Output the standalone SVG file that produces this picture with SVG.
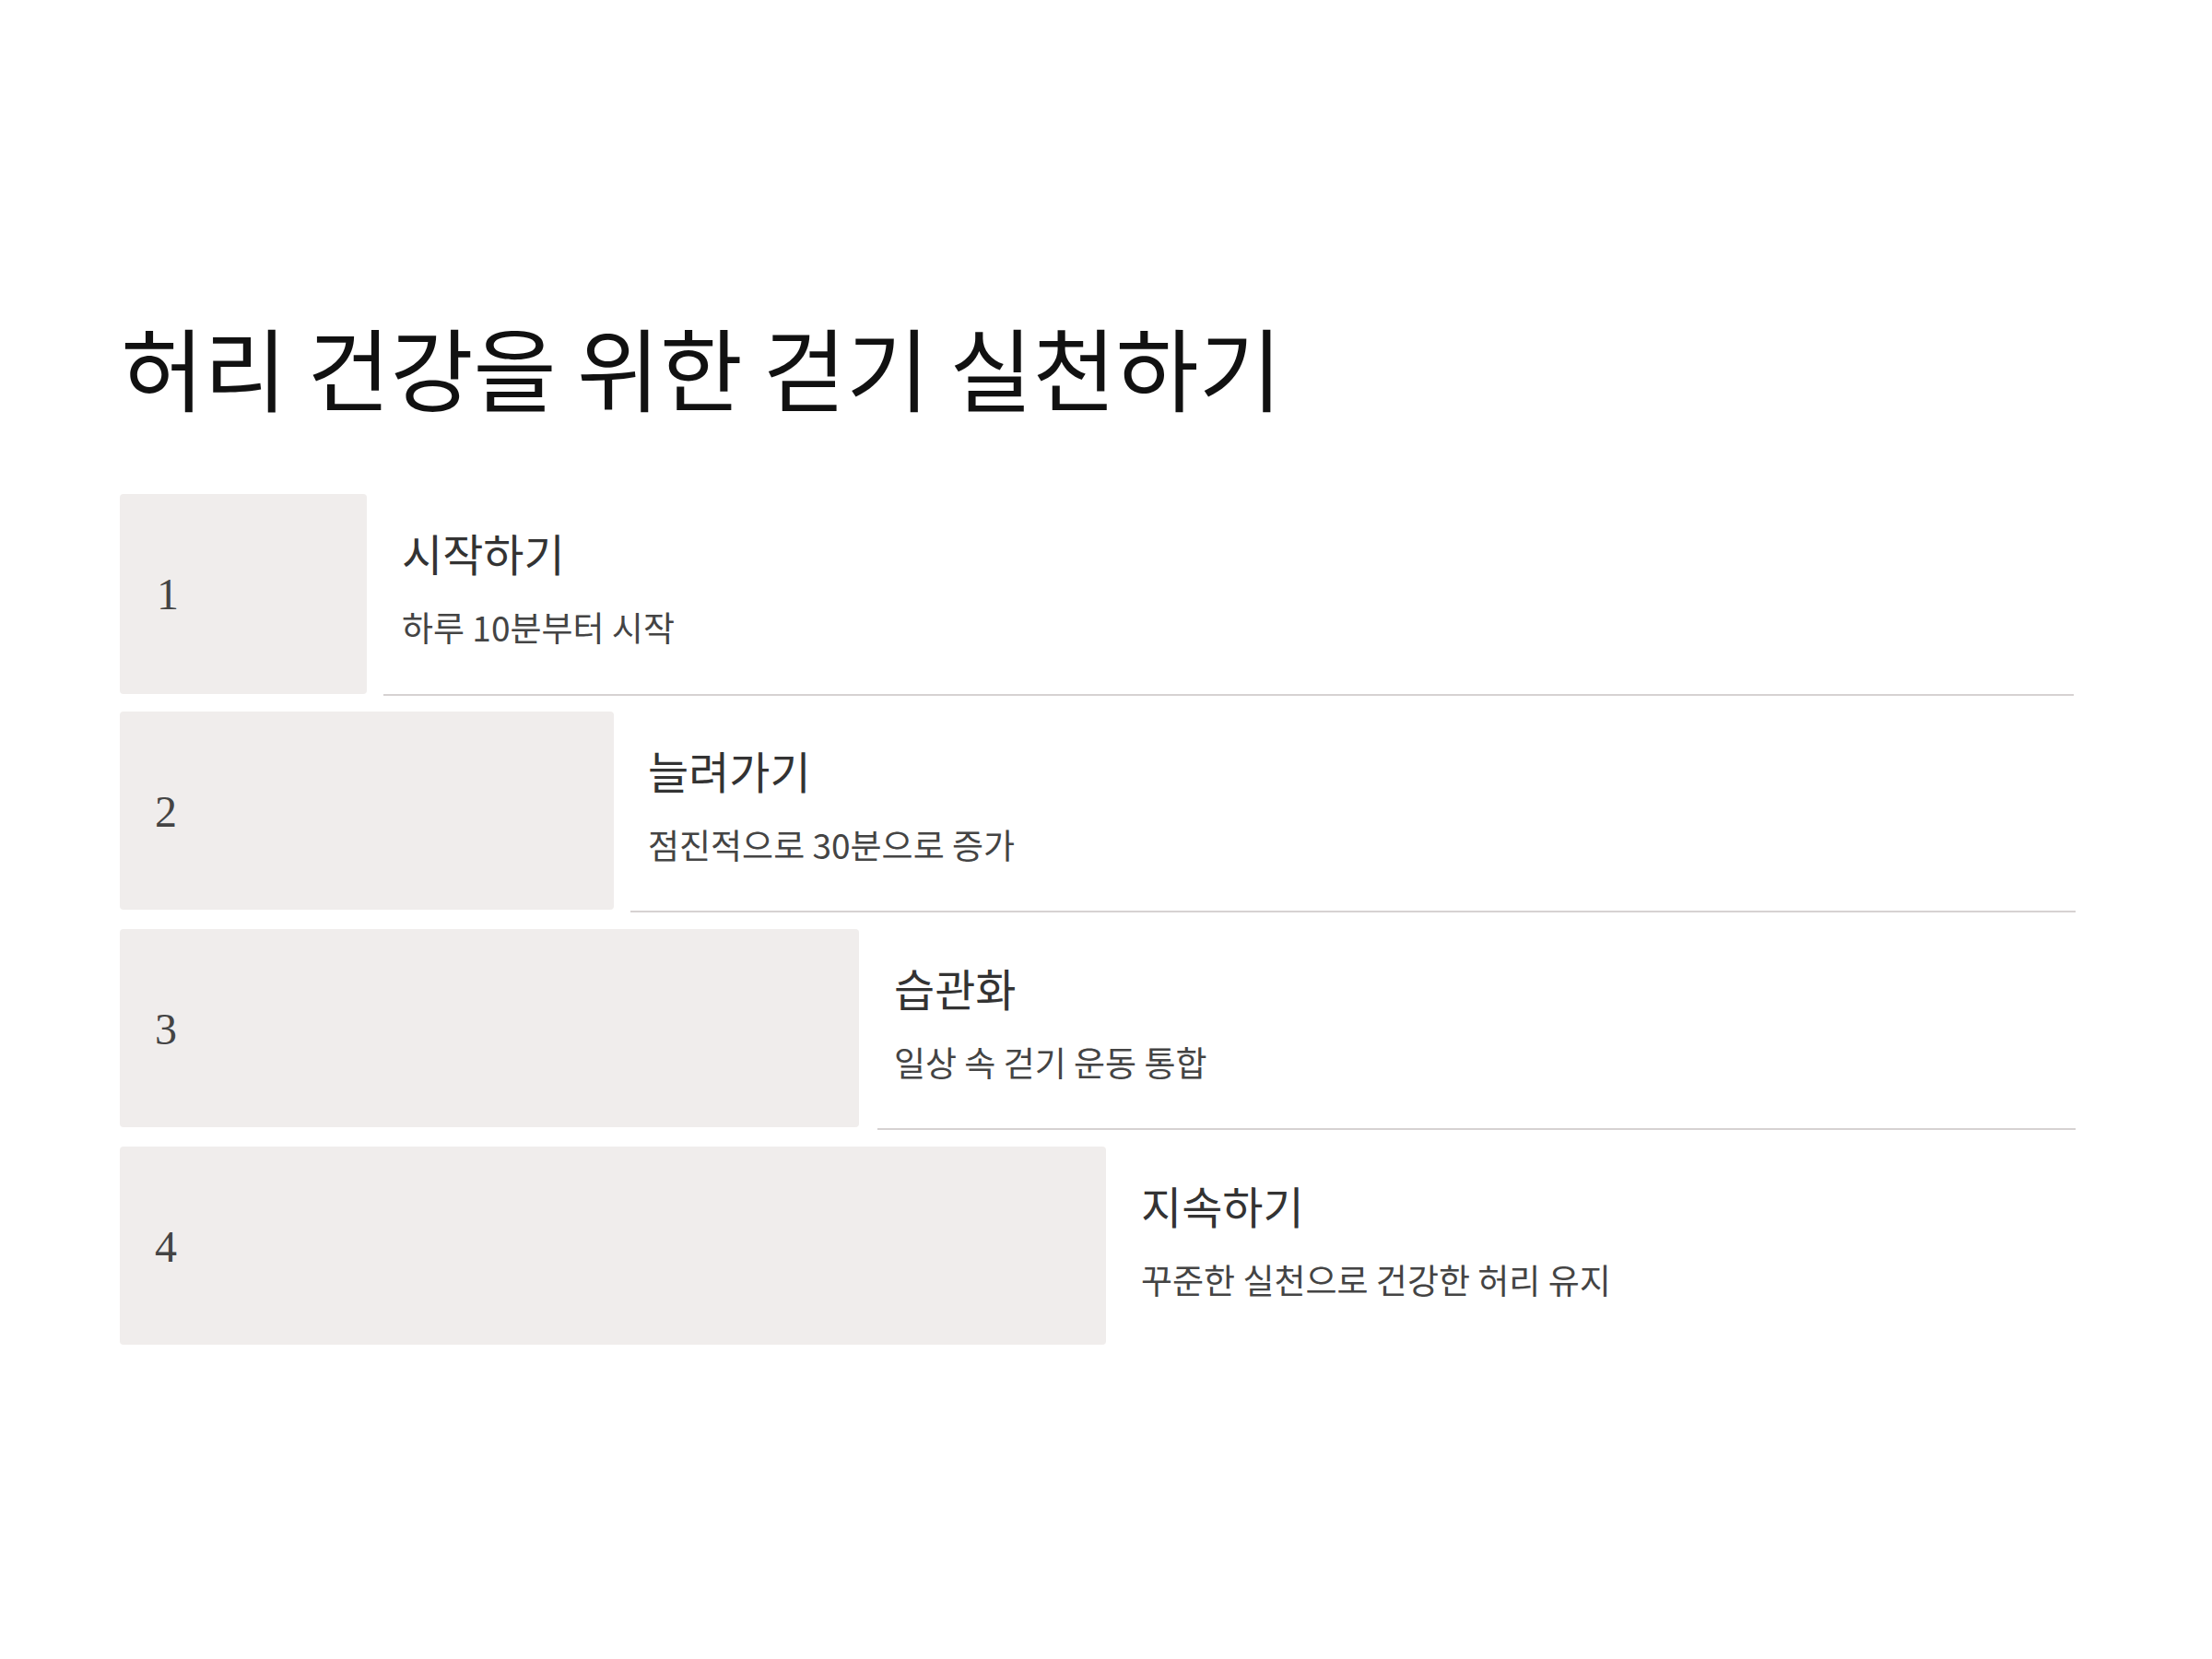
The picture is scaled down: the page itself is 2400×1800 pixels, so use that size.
<svg xmlns="http://www.w3.org/2000/svg" width="2400" height="1800" viewBox="0 0 2400 1800">
<style>
.box{fill:#f0edec}
.num{font-family:"Liberation Serif","DejaVu Serif",serif;font-size:48px;fill:#444}
.head{font-family:"Noto Sans CJK KR","Noto Sans",sans-serif;font-size:48px;fill:#333}
.sub{font-family:"Noto Sans CJK KR","Noto Sans",sans-serif;font-size:37px;fill:#444}
.title{font-family:"Noto Sans CJK KR","Noto Sans",sans-serif;font-size:98px;fill:#111}
.sep{stroke:#d6d2d2;stroke-width:2}
</style>
<rect width="2400" height="1800" fill="#ffffff"/>
<text class="title" x="131" y="439">허리 건강을 위한 걷기 실천하기</text>
<g id="connectors">
<line class="sep" x1="416" y1="754" x2="2250" y2="754"/>
<line class="sep" x1="684" y1="989" x2="2252" y2="989"/>
<line class="sep" x1="952" y1="1225" x2="2252" y2="1225"/>
</g>
<g id="step1">
<rect class="box" x="130" y="536" width="268" height="217" rx="4"/>
<text class="num" x="170" y="661">1</text>
<text class="head" x="436" y="620">시작하기</text>
<text class="sub" x="436" y="696">하루 10분부터 시작</text>
</g>
<g id="step2">
<rect class="box" x="130" y="772" width="536" height="215" rx="4"/>
<text class="num" x="168" y="897">2</text>
<text class="head" x="703" y="856">늘려가기</text>
<text class="sub" x="703" y="932">점진적으로 30분으로 증가</text>
</g>
<g id="step3">
<rect class="box" x="130" y="1008" width="802" height="215" rx="4"/>
<text class="num" x="168" y="1133">3</text>
<text class="head" x="970" y="1092">습관화</text>
<text class="sub" x="970" y="1168">일상 속 걷기 운동 통합</text>
</g>
<g id="step4">
<rect class="box" x="130" y="1244" width="1070" height="215" rx="4"/>
<text class="num" x="168" y="1369">4</text>
<text class="head" x="1238" y="1328">지속하기</text>
<text class="sub" x="1238" y="1404">꾸준한 실천으로 건강한 허리 유지</text>
</g>
</svg>
